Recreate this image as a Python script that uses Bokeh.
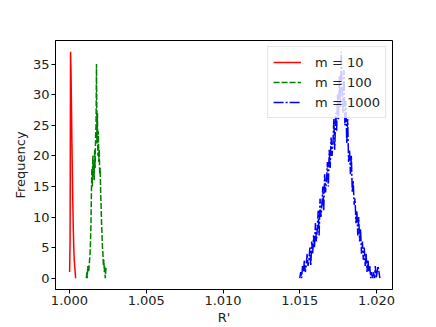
import numpy as np
from bokeh.plotting import figure
from bokeh.models import Range1d, FixedTicker, PrintfTickFormatter, Legend, LegendItem
from bokeh.embed import file_html
from bokeh.resources import INLINE

# m = 10
x10 = [1.00001, 1.00004, 1.00007, 1.00010, 1.00013, 1.00016, 1.00019, 1.00022,
       1.00025, 1.00028, 1.00031, 1.00034, 1.00037, 1.00040]
y10 = [1, 6, 37, 34, 28, 22, 17, 12, 8, 5, 3, 2, 1, 0]

# m = 100
x100_start, x100_step = 1.00110, 0.00003
y100 = [0, 1, 0, 2, 1, 1, 2, 3, 4, 6, 9,
        14, 18, 15, 20, 17, 19, 16, 21, 18, 23, 25,
        35,
        22, 27, 20, 24, 19, 21, 17, 18, 14, 12,
        9, 7, 5, 4, 2, 3, 1, 2, 0, 1, 2]

# m = 1000
x1000_start, x1000_step = 1.01500, 0.00006
y1000 = [0, 1, 0, 2, 1, 3, 1, 2, 4, 2,
         3, 5, 2, 6, 4, 7, 5, 9, 6, 8,
         11, 7, 13, 10, 12, 15, 11, 17, 14, 16,
         19, 15, 21, 18, 23, 20, 22, 26, 21, 27,
         24, 30, 26, 33, 28, 37, 31, 27, 34, 25,
         29, 22, 26, 19, 21, 17, 20, 14, 16, 12,
         13, 9, 11, 7, 10, 6, 8, 4, 6, 3,
         5, 2, 4, 1, 3, 1, 2, 0, 1, 0,
         1, 0, 2, 0, 1, 2, 1, 0]

x100 = x100_start + x100_step * np.arange(len(y100))
x1000 = x1000_start + x1000_step * np.arange(len(y1000))

x_ticks = [1.000, 1.005, 1.010, 1.015, 1.020]
y_ticks = [0, 5, 10, 15, 20, 25, 30, 35]
labels = ["m = 10", "m = 100", "m = 1000"]

FONT = "DejaVu Sans"

p = figure(width=436, height=327, output_backend="svg", toolbar_location=None,
           x_range=Range1d(0.99909, 1.02104), y_range=Range1d(-1.85, 38.85),
           min_border_left=55, min_border_right=44, min_border_top=40, min_border_bottom=37)

r1 = p.line(x10, y10, line_color="#ff0000", line_width=1.5)
r2 = p.line(x100, y100, line_color="#008000", line_width=1.5, line_dash="6 2")
r3 = p.line(x1000, y1000, line_color="#0000ff", line_width=1.5, line_dash="10 2 2 2")

p.xgrid.visible = False
p.ygrid.visible = False
p.outline_line_color = "black"
p.outline_line_alpha = 1.0
p.background_fill_color = "white"
p.border_fill_color = "white"

p.xaxis.ticker = FixedTicker(ticks=x_ticks)
p.xaxis.formatter = PrintfTickFormatter(format="%.3f")
p.yaxis.ticker = FixedTicker(ticks=y_ticks)
p.xaxis.axis_label = "R'"
p.yaxis.axis_label = "Frequency"

for ax in (p.xaxis, p.yaxis):
    ax.axis_line_color = "black"
    ax.major_tick_line_color = "black"
    ax.major_tick_out = 4
    ax.major_tick_in = 0
    ax.minor_tick_line_color = None
    ax.major_label_text_font = FONT
    ax.major_label_text_font_size = "13px"
    ax.major_label_text_color = "#222222"
    ax.axis_label_text_font = FONT
    ax.axis_label_text_font_size = "13px"
    ax.axis_label_text_font_style = "normal"
    ax.axis_label_text_color = "#222222"
    ax.major_label_standoff = 2
    ax.axis_label_standoff = 2

legend = Legend(items=[LegendItem(label=labels[0], renderers=[r1]),
                       LegendItem(label=labels[1], renderers=[r2]),
                       LegendItem(label=labels[2], renderers=[r3])],
                location="top_right")
legend.label_text_font = FONT
legend.label_text_font_size = "13px"
legend.label_text_color = "#222222"
legend.border_line_color = "#cccccc"
legend.background_fill_alpha = 0.8
legend.padding = 5
legend.spacing = 0
legend.margin = 6
legend.glyph_width = 28
legend.label_standoff = 14
legend.label_height = 20
legend.glyph_height = 20
p.add_layout(legend)

open("out.html", "w").write(file_html(p, INLINE))
